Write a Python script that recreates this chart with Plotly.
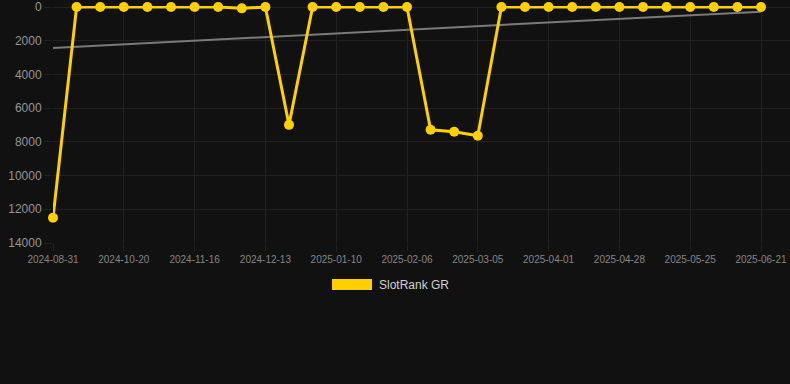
import numpy as np
import plotly.graph_objects as go

dates = [
    "2024-08-31", "2024-10-02", "2024-10-11", "2024-10-20", "2024-10-29", "2024-11-07",
    "2024-11-16", "2024-11-25", "2024-12-04", "2024-12-13", "2024-12-22", "2025-01-01",
    "2025-01-10", "2025-01-19", "2025-01-28", "2025-02-06", "2025-02-15", "2025-02-24",
    "2025-03-05", "2025-03-14", "2025-03-23", "2025-04-01", "2025-04-10", "2025-04-19",
    "2025-04-28", "2025-05-07", "2025-05-16", "2025-05-25", "2025-06-03", "2025-06-12",
    "2025-06-21",
]
rank = [
    12500, 0, 0, 0, 0, 0, 0, 0, 80, 0,
    6990, 0, 0, 0, 0, 0, 7285, 7400, 7640, 0,
    0, 0, 0, 0, 0, 0, 0, 0, 0, 0,
    0,
]
tick_labels = dates[::3]
y_ticks = [0, 2000, 4000, 6000, 8000, 10000, 12000, 14000]
y_tick_text = [str(v) for v in y_ticks]
series_name = "SlotRank GR"

idx = np.arange(len(rank))
slope, intercept = np.polyfit(idx, rank, 1)
trend = slope * idx + intercept

W, H = 790, 384
L, R, T, B = 53, 0, 6, 141
plot_w = W - L - R
plot_h = H - T - B
px_per_cat = (761 - 53) / (len(dates) - 1)
x_max = (plot_w) / px_per_cat

gold = "#FFD000"
grid = "#212121"
font = "Liberation Sans, Arial, sans-serif"

fig = go.Figure()
fig.add_trace(go.Scatter(
    x=dates, y=trend, mode="lines",
    line=dict(color="#7a7a7a", width=2),
    showlegend=False, hoverinfo="skip", cliponaxis=False,
))
fig.add_trace(go.Scatter(
    x=dates, y=rank, mode="lines+markers", name=series_name,
    line=dict(color=gold, width=3),
    marker=dict(color=gold, size=10),
    showlegend=False, cliponaxis=False,
))

def px_to_paper_x(p):
    return (p - L) / plot_w

def px_to_paper_y(p):
    return (H - B - p) / plot_h

fig.add_shape(type="rect", xref="paper", yref="paper",
              x0=px_to_paper_x(332), x1=px_to_paper_x(372),
              y0=px_to_paper_y(290), y1=px_to_paper_y(279),
              fillcolor=gold, line=dict(width=0))
fig.add_annotation(xref="paper", yref="paper",
                   x=px_to_paper_x(377), y=px_to_paper_y(284.5),
                   text=series_name, showarrow=False,
                   xanchor="left", yanchor="middle",
                   font=dict(family=font, size=12, color="#d0d0d0"))

fig.update_layout(
    width=W, height=H,
    margin=dict(l=L, r=R, t=T, b=B),
    paper_bgcolor="#111111", plot_bgcolor="#111111",
    showlegend=False,
    xaxis=dict(
        type="category", range=[0, x_max],
        tickmode="array", tickvals=tick_labels, ticktext=tick_labels,
        showgrid=True, gridcolor=grid, gridwidth=1,
        ticks="outside", ticklen=7, tickcolor=grid,
        tickfont=dict(family=font, size=10, color="#858585"),
        tickangle=0, zeroline=False, showline=False,
    ),
    yaxis=dict(
        range=[14000, -60], tickmode="array", tickvals=y_ticks, ticktext=y_tick_text,
        showgrid=True, gridcolor=grid, gridwidth=1,
        ticks="outside", ticklen=8, tickcolor=grid,
        tickfont=dict(family=font, size=12, color="#959595"),
        zeroline=False, showline=False, automargin=False,
    ),
)

fig.write_html(
    "out.html",
    config={"displayModeBar": False},
    post_script="document.body.style.margin='0';document.body.style.background='#111111';",
)
